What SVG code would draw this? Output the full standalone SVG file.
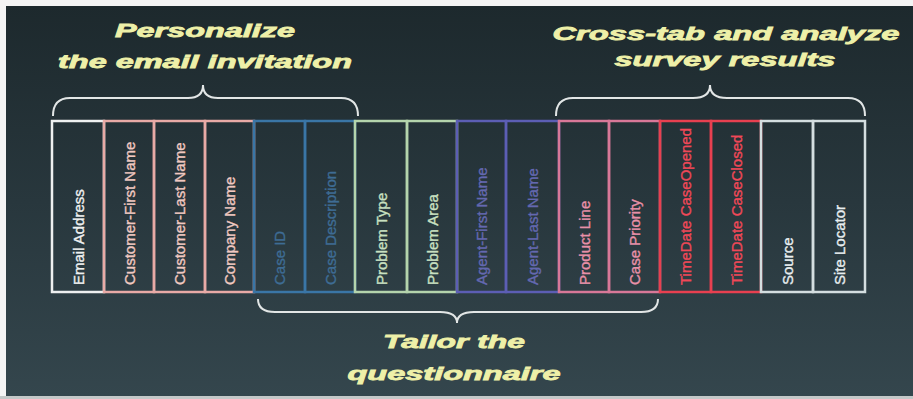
<svg xmlns="http://www.w3.org/2000/svg" width="913" height="399" viewBox="0 0 913 399">
<defs>
<linearGradient id="bg" x1="0" y1="0" x2="0" y2="1">
<stop offset="0" stop-color="#1d292d"/>
<stop offset="0.5" stop-color="#28373d"/>
<stop offset="1" stop-color="#34464d"/>
</linearGradient>
<style>
.cell{fill:none;stroke-width:2.5}
.lbl{font-family:"Liberation Sans",Arial,sans-serif;font-size:15px;stroke-width:0.35}
.title{font-family:"Liberation Sans",Arial,sans-serif;font-size:19px;font-weight:bold;font-style:italic;fill:#eef0a8;stroke:#eef0a8;stroke-width:0.8;text-anchor:middle}
.brace{fill:none;stroke:#e2e6e6;stroke-width:2}
.w{stroke:#eef0f0}.wt{fill:#eef0f0;stroke:#eef0f0}
.p{stroke:#e8aaa6}.pt{fill:#f0c8c0;stroke:#f0c8c0}
.b{stroke:#3a76a6}.bt{fill:#3e6c94;stroke:#3e6c94}
.g{stroke:#b4d4ac}.gt{fill:#c8e0c0;stroke:#c8e0c0}
.v{stroke:#5c5eb4}.vt{fill:#6468b0;stroke:#6468b0}
.m{stroke:#d87898}.mt{fill:#e890a8;stroke:#e890a8}
.r{stroke:#e84050}.rt{fill:#f04858;stroke:#f04858}
.s{stroke:#d4dee0}.st{fill:#e8eef0;stroke:#e8eef0}
</style>
</defs>
<rect x="0" y="0" width="913" height="399" fill="#f4f4f4"/>
<rect x="0" y="396" width="913" height="3" fill="#c4c8c8"/>
<rect x="6" y="6" width="907" height="390" fill="url(#bg)"/>

<g id="title-personalize">
<text class="title" x="205" y="37" textLength="180" lengthAdjust="spacingAndGlyphs">Personalize</text>
<text class="title" x="205" y="68" textLength="294" lengthAdjust="spacingAndGlyphs">the email invitation</text>
</g>
<g id="title-crosstab">
<text class="title" x="726" y="40" textLength="347" lengthAdjust="spacingAndGlyphs">Cross-tab and analyze</text>
<text class="title" x="725" y="66" textLength="221" lengthAdjust="spacingAndGlyphs">survey results</text>
</g>
<g id="title-tailor">
<text class="title" x="454" y="348" textLength="142" lengthAdjust="spacingAndGlyphs">Tailor the</text>
<text class="title" x="454" y="380" textLength="213" lengthAdjust="spacingAndGlyphs">questionnaire</text>
</g>

<g id="connectors">
<path class="brace" d="M53,116 Q53,98 70,98 L188,98 Q203,98 203,85 Q203,98 218,98 L341,98 Q358,98 358,116"/>
<path class="brace" d="M556,116 Q556,98 573,98 L693,98 Q710,98 710,85 Q710,98 727,98 L848,98 Q865,98 865,116"/>
<path class="brace" d="M258,299 Q258,312 275,312 L440,312 Q457,312 457,323 Q457,312 474,312 L641,312 Q658,312 658,299"/>
</g>

<g id="cell-email"><rect class="cell w" x="52" y="121" width="52" height="171"/><text class="lbl wt" transform="translate(83.5,285) rotate(-90)">Email Address</text></g>
<g id="cell-cust-first"><rect class="cell p" x="104" y="121" width="50" height="171"/><text class="lbl pt" transform="translate(134.5,285) rotate(-90)">Customer-First Name</text></g>
<g id="cell-cust-last"><rect class="cell p" x="154" y="121" width="51" height="171"/><text class="lbl pt" transform="translate(185,285) rotate(-90)">Customer-Last Name</text></g>
<g id="cell-company"><rect class="cell p" x="205" y="121" width="49" height="171"/><text class="lbl pt" transform="translate(235,285) rotate(-90)">Company Name</text></g>
<g id="cell-case-id"><rect class="cell b" x="254" y="121" width="51" height="171"/><text class="lbl bt" transform="translate(285,285) rotate(-90)">Case ID</text></g>
<g id="cell-case-desc"><rect class="cell b" x="305" y="121" width="50" height="171"/><text class="lbl bt" transform="translate(335.5,285) rotate(-90)">Case Description</text></g>
<g id="cell-problem-type"><rect class="cell g" x="355" y="121" width="52" height="171"/><text class="lbl gt" transform="translate(386.5,285) rotate(-90)">Problem Type</text></g>
<g id="cell-problem-area"><rect class="cell g" x="407" y="121" width="50" height="171"/><text class="lbl gt" transform="translate(437.5,285) rotate(-90)">Problem Area</text></g>
<g id="cell-agent-first"><rect class="cell v" x="457" y="121" width="49" height="171"/><text class="lbl vt" transform="translate(487,285) rotate(-90)">Agent-First Name</text></g>
<g id="cell-agent-last"><rect class="cell v" x="506" y="121" width="53" height="171"/><text class="lbl vt" transform="translate(538,285) rotate(-90)">Agent-Last Name</text></g>
<g id="cell-product"><rect class="cell m" x="559" y="121" width="50" height="171"/><text class="lbl mt" transform="translate(589.5,285) rotate(-90)">Product Line</text></g>
<g id="cell-priority"><rect class="cell m" x="609" y="121" width="51" height="171"/><text class="lbl mt" transform="translate(640,285) rotate(-90)">Case Priority</text></g>
<g id="cell-opened"><rect class="cell r" x="660" y="121" width="51" height="171"/><text class="lbl rt" transform="translate(691,285) rotate(-90)">TimeDate CaseOpened</text></g>
<g id="cell-closed"><rect class="cell r" x="711" y="121" width="50" height="171"/><text class="lbl rt" transform="translate(741.5,285) rotate(-90)">TimeDate CaseClosed</text></g>
<g id="cell-source"><rect class="cell s" x="761" y="121" width="52" height="171"/><text class="lbl st" transform="translate(792.5,285) rotate(-90)">Source</text></g>
<g id="cell-site"><rect class="cell s" x="813" y="121" width="52" height="171"/><text class="lbl st" transform="translate(844.5,285) rotate(-90)">Site Locator</text></g>
</svg>
